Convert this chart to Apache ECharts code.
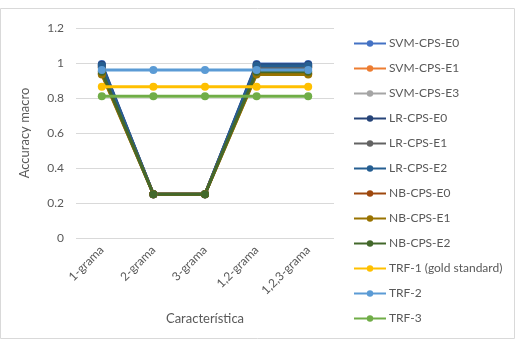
<!DOCTYPE html>
<html><head><meta charset="utf-8">
<script src="https://cdn.jsdelivr.net/npm/echarts@6/dist/echarts.min.js"></script>
<style>html,body{margin:0;padding:0;background:#fff}#c{width:516px;height:339px}</style>
</head><body><div id="c"></div>
<script>
const categories = ['1-grama','2-grama','3-grama','1,2-grama','1,2,3-grama'];
const seriesNames = ['SVM-CPS-E0','SVM-CPS-E1','SVM-CPS-E3','LR-CPS-E0','LR-CPS-E1','LR-CPS-E2','NB-CPS-E0','NB-CPS-E1','NB-CPS-E2','TRF-1 (gold standard)','TRF-2','TRF-3'];
const svmE0 = [0.995,0.25,0.25,0.995,0.995];
const svmE1 = [0.98,0.25,0.25,0.98,0.98];
const svmE3 = [0.975,0.25,0.25,0.975,0.975];
const lrE0 = [0.99,0.25,0.25,0.99,0.99];
const lrE1 = [0.975,0.25,0.25,0.975,0.975];
const lrE2 = [0.985,0.25,0.25,0.985,0.985];
const nbE0 = [0.94,0.25,0.25,0.94,0.94];
const nbE1 = [0.935,0.25,0.25,0.935,0.935];
const nbE2 = [0.95,0.25,0.25,0.95,0.95];
const trf1 = [0.865,0.865,0.865,0.865,0.865];
const trf2 = [0.96,0.96,0.96,0.96,0.96];
const trf3 = [0.81,0.81,0.81,0.81,0.81];
const values = [svmE0,svmE1,svmE3,lrE0,lrE1,lrE2,nbE0,nbE1,nbE2,trf1,trf2,trf3];
const colors = ['#4472C4','#ED7D31','#A5A5A5','#264478','#636363','#255E91','#9E480E','#997300','#43682B','#FFC000','#5B9BD5','#70AD47'];
const yTicks = [0,0.2,0.4,0.6,0.8,1,1.2];
const font = 'Lato, Open Sans, sans-serif';
const chart = echarts.init(document.getElementById('c'));
chart.setOption({
  animation:false,
  color: colors,
  graphic:[{type:'rect',shape:{x:0.5,y:8.5,width:514,height:330},style:{fill:'none',stroke:'#d9d9d9',lineWidth:1},silent:true}],
  grid:{left:76,right:182,top:28,bottom:101},
  xAxis:{type:'category',data:categories,boundaryGap:true,
    name:'Característica',nameLocation:'middle',nameGap:74,
    nameTextStyle:{color:'#595959',fontSize:13,fontFamily:font},
    axisLine:{show:false},axisTick:{show:false},
    axisLabel:{rotate:45,color:'#595959',fontSize:12,fontFamily:font,margin:10}},
  yAxis:{type:'value',min:0,max:1.2,interval:0.2,
    name:'Accuracy macro',nameLocation:'middle',nameGap:45,
    nameTextStyle:{color:'#595959',fontSize:13,fontFamily:font},
    axisLabel:{color:'#595959',fontSize:12,fontFamily:font,margin:12,
      formatter:v=>{const t=yTicks.find(x=>Math.abs(x-v)<1e-6);return t===undefined?'':String(t);}},
    splitLine:{lineStyle:{color:'#d9d9d9'}},axisLine:{show:false},axisTick:{show:false}},
  legend:{orient:'vertical',left:348,top:31,itemGap:10,itemWidth:32,itemHeight:8,
    textStyle:{color:'#595959',fontSize:12,fontFamily:font,padding:[0,0,0,-2],height:15,lineHeight:15},
    data:seriesNames},
  series: seriesNames.map((n,i)=>({name:n,type:'line',data:values[i],symbol:'circle',symbolSize:8,
    lineStyle:{width:3},itemStyle:{color:colors[i]}}))
});
</script></body></html>
